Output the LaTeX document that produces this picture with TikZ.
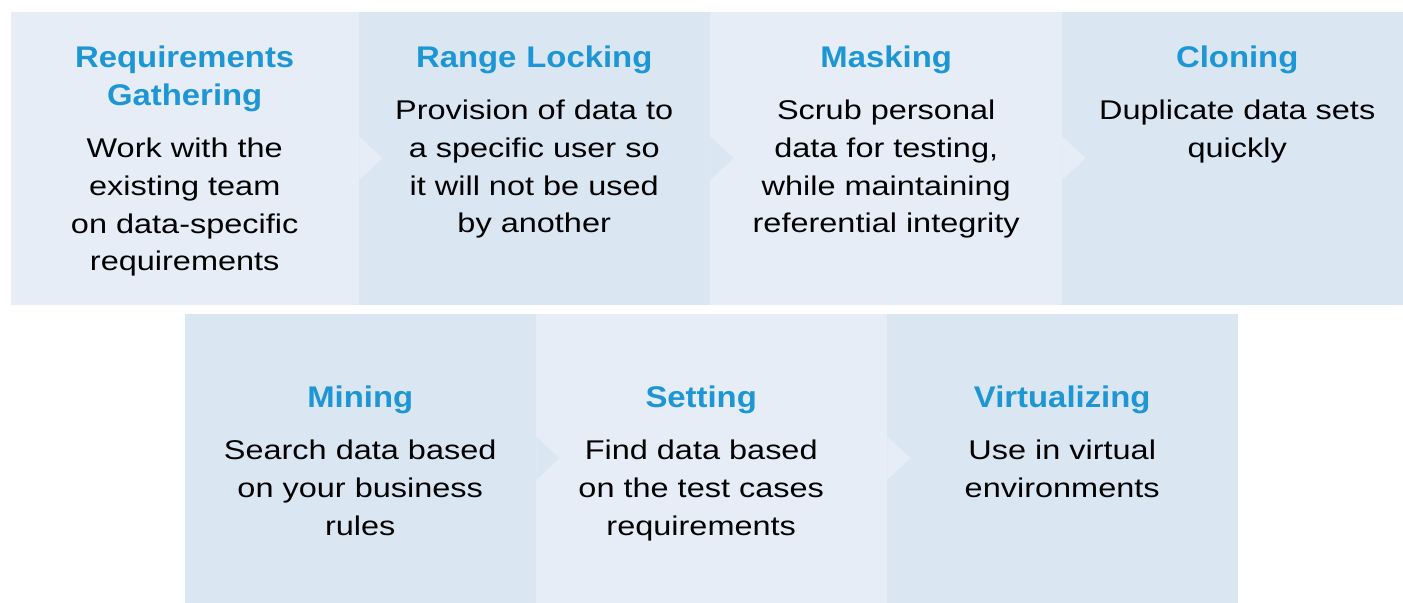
\documentclass[tikz,border=0pt]{standalone}
\usepackage{fontspec}
\newfontfamily\bodyfont[FakeStretch=1.2]{Liberation Sans}
\newfontfamily\headfont[FakeStretch=1.1]{Liberation Sans}
\definecolor{lite}{RGB}{230,237,247}
\definecolor{dark}{RGB}{219,230,243}
\definecolor{head}{RGB}{28,150,212}
\tikzset{
    box/.style={minimum width=3.51cm, minimum height=2.93cm, inner sep=0, anchor=north west},
    title/.style={text=head, font=\headfont\bfseries\fontsize{8.5}{10.81}\selectfont, anchor=base, align=center, text width=3.3cm, inner sep=0},
    body/.style={font=\bodyfont\fontsize{7.7}{10.81}\selectfont, anchor=base, align=center, text width=3.3cm, inner sep=0}
}
\begin{document}
\begin{tikzpicture}
            \clip (0, 0) rectangle (14.03, -6.02);
            \node[box, fill=lite, minimum width=3.48cm] (req) at (0.10, -0.11) {};
            \node[box, fill=dark] (lock) at (3.58, -0.11) {};
            \node[box, fill=lite, minimum width=3.53cm] (mask) at (7.09, -0.11) {};
            \node[box, fill=dark] (clone) at (10.61, -0.11) {};
            \node[box, fill=dark, minimum height=2.89cm] (mine) at (1.84, -3.13) {};
            \node[box, fill=lite, minimum height=2.89cm] (set) at (5.35, -3.13) {};
            \node[box, fill=dark, minimum height=2.89cm] (virt) at (8.86, -3.13) {};
            \fill[lite] (req.east) ++(0, 0.215) -- ++(0.23, -0.215) -- ++(-0.23, -0.215) -- cycle;
            \fill[dark] (lock.east) ++(0, 0.215) -- ++(0.23, -0.215) -- ++(-0.23, -0.215) -- cycle;
            \fill[lite] ([xshift=-0.01cm]mask.east) ++(0, 0.215) -- ++(0.23, -0.215) -- ++(-0.23, -0.215) -- cycle;
            \fill[dark] (mine.east) ++(0, 0.215) -- ++(0.23, -0.215) -- ++(-0.23, -0.215) -- cycle;
            \fill[lite] (set.east) ++(0, 0.215) -- ++(0.23, -0.215) -- ++(-0.23, -0.215) -- cycle;
            \node[title] (reqt) at ([yshift=-0.56cm]req.north) {Requirements\\Gathering};
            \node[body] (reqb) at ([yshift=-1.46cm]req.north) {Work with the\\existing team\\on data-specific\\requirements};
            \node[title] (lockt) at ([yshift=-0.56cm]lock.north) {Range Locking};
            \node[body] (lockb) at ([yshift=-1.08cm]lock.north) {Provision of data to\\a specific user so\\it will not be used\\by another};
            \node[title] (maskt) at ([yshift=-0.56cm]mask.north) {Masking};
            \node[body] (maskb) at ([yshift=-1.08cm]mask.north) {Scrub personal\\data for testing,\\while maintaining\\referential integrity};
            \node[title] (clonet) at ([yshift=-0.56cm]clone.north) {Cloning};
            \node[body] (cloneb) at ([yshift=-1.08cm]clone.north) {Duplicate data sets\\quickly};
            \node[title] (minet) at ([yshift=-0.94cm]mine.north) {Mining};
            \node[body] (mineb) at ([yshift=-1.46cm]mine.north) {Search data based\\on your business\\rules};
            \node[title] (sett) at ([xshift=-0.1cm, yshift=-0.94cm]set.north) {Setting};
            \node[body] (setb) at ([xshift=-0.1cm, yshift=-1.46cm]set.north) {Find data based\\on the test cases\\requirements};
            \node[title] (virtt) at ([yshift=-0.94cm]virt.north) {Virtualizing};
            \node[body] (virtb) at ([yshift=-1.46cm]virt.north) {Use in virtual\\environments};
        \end{tikzpicture}
\end{document}
